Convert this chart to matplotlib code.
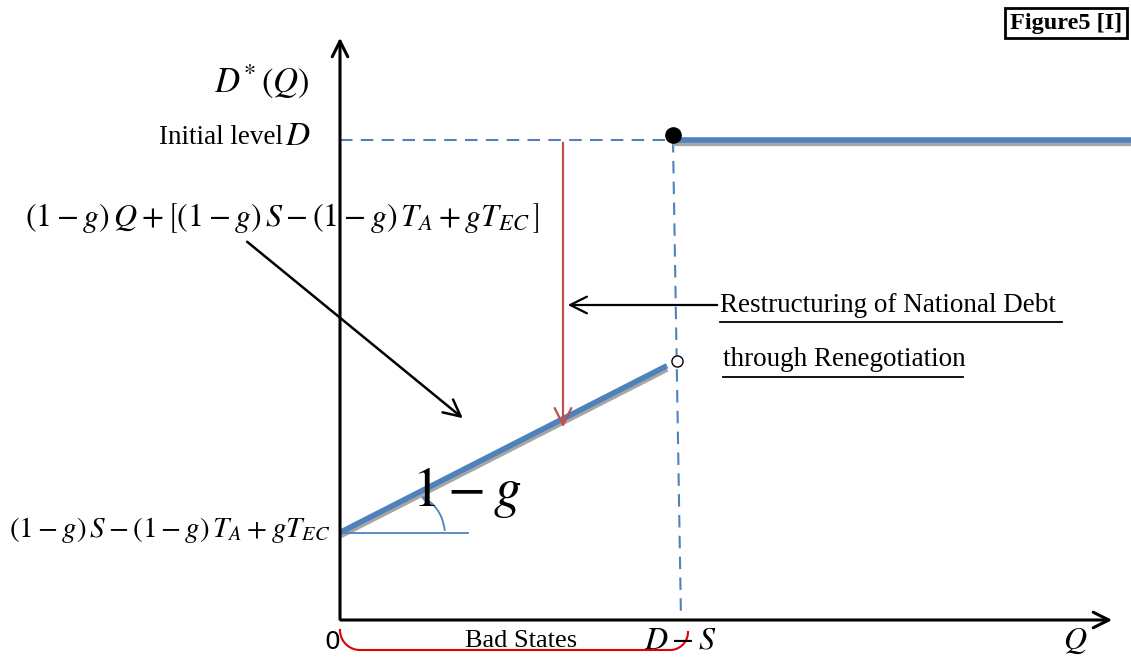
import matplotlib
matplotlib.use("Agg")
import matplotlib.pyplot as plt
from matplotlib.patches import FancyArrowPatch
import numpy as np

plt.rcParams['font.family'] = ['Liberation Serif', 'DejaVu Serif']
plt.rcParams['mathtext.fontset'] = 'stix'

# model values (1 unit = 100 px on both axes)
D_level = 4.80        # initial debt level D
threshold = 3.33      # D - S
intercept = 0.87      # (1-g)S - (1-g)T_A + gT_EC
slope = 0.51          # 1 - g
q_end = 3.27          # end of the sloped segment
q_max = 7.91
x_axis_end = 7.75
y_axis_end = 5.85

BLUE = '#4f81bd'
GRAY = '#a6a6a6'
RED_ARROW = '#c0504d'

fig = plt.figure(figsize=(11.31, 6.57), dpi=100)
ax = fig.add_axes([0, 0, 1, 1])
ax.set_xlim(-3.40, 7.91)
ax.set_ylim(-0.37, 6.20)
ax.axis('off')

# axes with open arrowheads
ax.annotate('', xy=(0, y_axis_end), xytext=(0, -0.02),
            arrowprops=dict(arrowstyle='->', color='black', lw=2.2, mutation_scale=28))
ax.annotate('', xy=(x_axis_end, 0), xytext=(-0.02, 0),
            arrowprops=dict(arrowstyle='->', color='black', lw=2.2, mutation_scale=28))

# dashed guides
ax.plot([0, threshold], [D_level, D_level], ls=(0, (6, 4)), color=BLUE, lw=1.5)
ax.plot([threshold, threshold + 0.08], [D_level, 0], ls=(0, (6, 4)), color=BLUE, lw=1.5)

# flat part of D*(Q): shadow then line
ax.plot([threshold, q_max], [D_level - 0.025, D_level - 0.025], color=GRAY, lw=4.5,
        solid_capstyle='butt')
ax.plot([threshold, q_max], [D_level + 0.005, D_level + 0.005], color=BLUE, lw=4,
        solid_capstyle='butt')

# sloped part of D*(Q)
qs = np.array([0, q_end])
ax.plot(qs, intercept + slope * qs - 0.025, color=GRAY, lw=4.5, solid_capstyle='butt')
ax.plot(qs, intercept + slope * qs + 0.005, color=BLUE, lw=4, solid_capstyle='butt')

# closed dot at D, open circle at the end of the slope
ax.plot([threshold], [D_level + 0.05], 'o', color='black', ms=11)
ax.plot([threshold + 0.04], [intercept + slope * threshold + 0.02], 'o', mfc='white',
        mec='black', ms=8, mew=1)

# slope angle marker
ax.plot([0, 1.28], [intercept, intercept], color=BLUE, lw=1.3)
ax.add_patch(FancyArrowPatch((1.05, intercept), (0.78, 1.25),
                             connectionstyle='arc3,rad=0.3', arrowstyle='->',
                             color=BLUE, lw=1.3, mutation_scale=10))
ax.text(0.72, 1.27, r'$1-g$', fontsize=40, va='center', ha='left')

# restructuring arrow
ax.annotate('', xy=(2.23, 1.90), xytext=(2.23, D_level),
            arrowprops=dict(arrowstyle='->', color=RED_ARROW, lw=1.6, mutation_scale=30))
ax.annotate('', xy=(2.25, 3.15), xytext=(3.80, 3.15),
            arrowprops=dict(arrowstyle='->', color='black', lw=1.6, mutation_scale=30))
ax.annotate('', xy=(1.25, 2.00), xytext=(-0.95, 3.80),
            arrowprops=dict(arrowstyle='->', color='black', lw=1.8, mutation_scale=30))

# labels
ax.text(-3.15, 4.02, r'$(1-g)\,Q+\left[(1-g)\,S-(1-g)\,T_A+gT_{EC}\,\right]$',
        fontsize=23, va='center', ha='left')
ax.text(-0.10, 0.90, r'$(1-g)\,S-(1-g)\,T_A+gT_{EC}$', fontsize=21,
        va='center', ha='right')
ax.text(-0.30, 5.38, r'$D^{*}\,(Q)$', fontsize=25, va='center', ha='right')
ax.text(-0.57, 4.83, 'Initial level', fontsize=19.5, va='center', ha='right')
ax.text(-0.59, 4.83, r'$\,D$', fontsize=24, va='center', ha='left')
ax.text(3.80, 3.15, 'Restructuring of National Debt', fontsize=19.5,
        va='center', ha='left')
ax.text(3.83, 2.60, 'through Renegotiation', fontsize=19.5, va='center', ha='left')
ax.plot([3.80, 7.22], [2.98, 2.98], color='black', lw=1.3)
ax.plot([3.83, 6.23], [2.43, 2.43], color='black', lw=1.3)

ax.text(-0.08, -0.22, '0', fontsize=18, va='center', ha='center', family='DejaVu Sans')
ax.text(1.81, -0.21, 'Bad States', fontsize=19, va='center', ha='center')
ax.text(3.40, -0.21, r'$D-S$', fontsize=23, va='center', ha='center')
ax.text(7.35, -0.21, r'$Q$', fontsize=23, va='center', ha='center')

# red brace under the bad states
t = np.linspace(0, 1, 50)
bx = np.concatenate([0.2 * (1 - np.cos(t * np.pi / 2)),
                     3.30 + 0.18 * np.sin(t * np.pi / 2)])
by = np.concatenate([-0.10 - 0.20 * np.sin(t * np.pi / 2),
                     -0.30 + 0.18 * (1 - np.cos(t * np.pi / 2))])
ax.plot(bx, by, color='#e00000', lw=1.5)

ax.text(7.82, 5.97, 'Figure5 [I]', fontsize=17.5, fontweight='bold', va='center',
        ha='right', bbox=dict(boxstyle='square,pad=0.2', fc='white', ec='black', lw=2))

fig.savefig('out.png', dpi=100)
